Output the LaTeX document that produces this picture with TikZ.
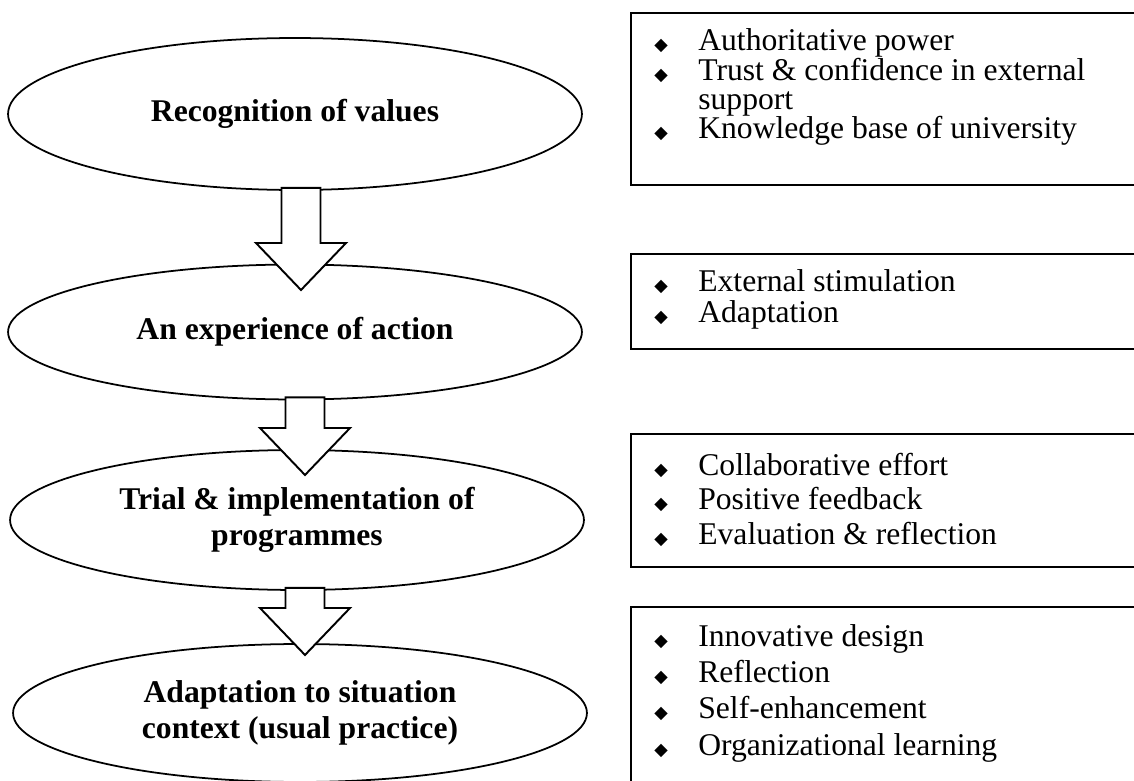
\documentclass[tikz,border=0pt]{standalone}
\usepackage{fontspec}
\setmainfont{Liberation Serif}
\newfontfamily\symfont{DejaVu Sans}
\usetikzlibrary{shapes.geometric,calc}

% small diamond bullet of the lists
\newcommand{\dia}{\makebox[0.88cm][l]{\symfont\fontsize{10}{10}\selectfont ◆}}

\tikzset{
  stage/.style={draw, ellipse, line width=1pt, minimum width=11.48cm,
    align=center, inner sep=0pt, font=\fontsize{18}{20.5}\selectfont\bfseries},
  flow/.style={draw, line width=1.1pt, fill=white, line join=miter},
  listbox/.style={draw, line width=0.9pt},
  point/.style={anchor=base west, inner sep=0pt, font=\fontsize{18}{20}\selectfont}
}

\begin{document}
\begin{tikzpicture}[x=0.02cm, y=-0.02cm]
    \useasboundingbox (0,0) rectangle (1134,781);

    % stages
    \node[stage, minimum height=3.04cm] (rec) at (295,114) {Recognition of values};
    \node[stage, minimum height=2.7cm] (exp) at (295,332) {An experience of action};
    \node[stage, minimum height=2.8cm] (trial) at (297,520)
        {Trial \& implementation of\\programmes};
    \node[stage, minimum height=2.76cm] (adapt) at (300,713)
        {Adaptation to situation\\context (usual practice)};

    % block arrows
    \coordinate (tip1) at (301,290);
    \coordinate (tip2) at (305,475);
    \coordinate (tip3) at (305,655);
    \foreach \from/\tip in {rec/tip1, exp/tip2, trial/tip3}{
        \draw[flow] let \p1=(\from.south), \p2=(\tip) in
            (\x2-0.39cm,\y1+0.06cm) -- (\x2+0.39cm,\y1+0.06cm)
            -- (\x2+0.39cm,\y2+0.94cm) -- (\x2+0.9cm,\y2+0.94cm)
            -- (\p2) -- (\x2-0.9cm,\y2+0.94cm)
            -- (\x2-0.39cm,\y2+0.94cm) -- cycle;
    }

    % list boxes, open at the right edge
    \draw[listbox] (1140,13) -| (631,185) -- (1140,185);
    \draw[listbox] (1140,254) -| (631,349) -- (1140,349);
    \draw[listbox] (1140,434) -| (631,567) -- (1140,567);
    \draw[listbox] (1140,607) -| (631,800);

    \node[point] (r1) at (654,51) {\dia Authoritative power};
    \node[point] (r2) at (654,80) {\dia Trust \& confidence in external};
    \node[point] (r3) at (654,109) {\makebox[0.88cm]{}support};
    \node[point] (r4) at (654,138) {\dia Knowledge base of university};

    \node[point] (x1) at (654,291) {\dia External stimulation};
    \node[point] (x2) at (654,322) {\dia Adaptation};

    \node[point] (t1) at (654,475) {\dia Collaborative effort};
    \node[point] (t2) at (654,509) {\dia Positive feedback};
    \node[point] (t3) at (654,544) {\dia Evaluation \& reflection};

    \node[point] (a1) at (654,646) {\dia Innovative design};
    \node[point] (a2) at (654,682) {\dia Reflection};
    \node[point] (a3) at (654,718) {\dia Self-enhancement};
    \node[point] (a4) at (654,755) {\dia Organizational learning};
\end{tikzpicture}
\end{document}
